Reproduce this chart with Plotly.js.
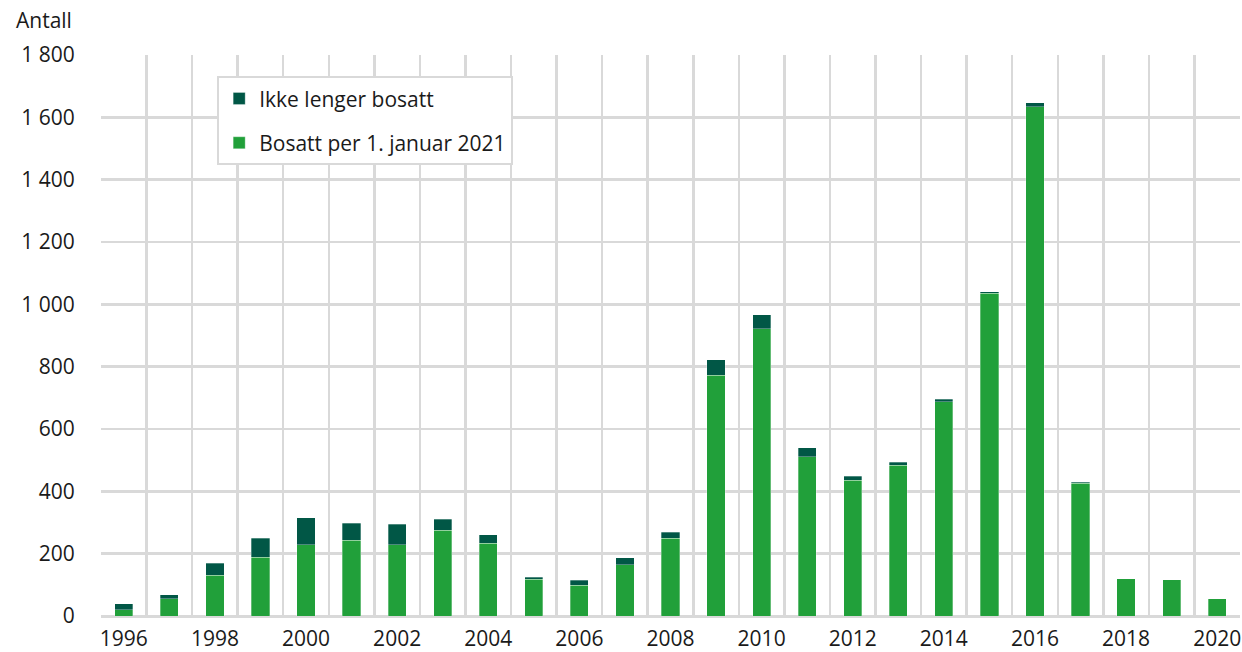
<!DOCTYPE html>
<html>
<head>
<meta charset="utf-8">
<script src="https://cdn.plot.ly/plotly-3.0.1.min.js"></script>
<style>html,body{margin:0;padding:0;background:#fff;}#chart{width:1242px;height:652px;}</style>
</head>
<body>
<div id="chart"></div>
<script>
const years = [1996,1997,1998,1999,2000,2001,2002,2003,2004,2005,2006,2007,2008,2009,2010,2011,2012,2013,2014,2015,2016,2017,2018,2019,2020];
const bosatt = [20,55,131,188,228,243,228,275,233,118,98,164,249,773,921,511,435,483,687,1035,1634,426,119,117,56];
const ikkeBosatt = [20,13,38,61,87,54,66,35,28,7,17,23,19,50,45,29,13,10,9,5,13,3,0,0,0];
const seriesNames = ["Bosatt per 1. januar 2021","Ikke lenger bosatt"];
const yTickVals = [0,200,400,600,800,1000,1200,1400,1600,1800];
const yTickText = ["0","200","400","600","800","1 000","1 200","1 400","1 600","1 800"];
const xTickVals = [1996,1998,2000,2002,2004,2006,2008,2010,2012,2014,2016,2018,2020];
const yTitle = "Antall";

const FONT = "'Open Sans', 'Noto Sans', sans-serif";
const grid = "#d9d9d9";
const FS = 21;

const traces = [
  {type:"bar", x:years, y:bosatt, name:seriesNames[0], legendgroup:"b", legendrank:2,
   marker:{color:"#21a03a", line:{color:"rgba(255,255,255,0.5)", width:0.6}}, hoverinfo:"x+y"},
  {type:"bar", x:years, y:ikkeBosatt, name:seriesNames[1], legendgroup:"a", legendrank:1,
   marker:{color:"#015746", line:{color:"rgba(255,255,255,0.5)", width:0.6}}, hoverinfo:"x+y"}
];

const layout = {
  width:1242, height:652,
  margin:{l:101, r:2, t:55, b:36},
  paper_bgcolor:"#fff", plot_bgcolor:"#fff",
  font:{family:FONT, size:FS, color:"#1a1a1a"},
  barmode:"stack", bargap:0.6,
  showlegend:true,
  legend:{x:0.102, y:0.962, xanchor:"left", yanchor:"top",
    bordercolor:grid, borderwidth:2, bgcolor:"#fff",
    traceorder:"grouped", tracegroupgap:14,
    font:{family:FONT, size:FS, color:"#1a1a1a"}},
  xaxis:{type:"linear", range:[1995.5, 2020.5], tickvals:xTickVals,
    showgrid:false, zeroline:false, showline:false,
    ticks:"outside", ticklen:4, tickcolor:"rgba(0,0,0,0)",
    minor:{tick0:1995.5, dtick:1, showgrid:true, gridcolor:grid, gridwidth:2.5, ticks:""},
    fixedrange:true},
  yaxis:{range:[0,1800], tickvals:yTickVals, ticktext:yTickText,
    showgrid:true, gridcolor:grid, gridwidth:2.5,
    zeroline:true, zerolinecolor:grid, zerolinewidth:3,
    ticks:"outside", ticklen:21, tickcolor:"rgba(0,0,0,0)", fixedrange:true},
  annotations:[{text:yTitle, xref:"paper", yref:"paper", x:-0.076, y:1.062,
    xanchor:"left", yanchor:"middle", showarrow:false,
    font:{family:FONT, size:FS, color:"#1a1a1a"}}]
};

Plotly.newPlot("chart", traces, layout, {displayModeBar:false, staticPlot:true});
</script>
</body>
</html>
